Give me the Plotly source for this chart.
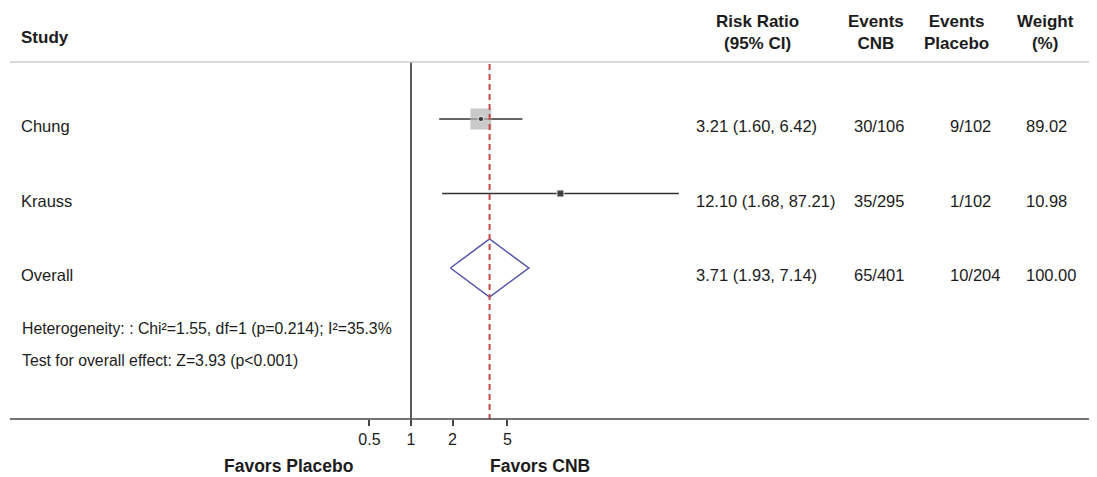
import plotly.graph_objects as go

# ---- data ----
studies = ["Chung", "Krauss"]
rr = [3.21, 12.10]
ci_low = [1.60, 1.68]
ci_high = [6.42, 87.21]
weights = [89.02, 10.98]
rr_text = ["3.21 (1.60, 6.42)", "12.10 (1.68, 87.21)"]
events_cnb = ["30/106", "35/295"]
events_placebo = ["9/102", "1/102"]

overall_label = "Overall"
overall_rr = 3.71
overall_low = 1.93
overall_high = 7.14
overall_text = "3.71 (1.93, 7.14)"
overall_cnb = "65/401"
overall_placebo = "10/204"
overall_weight = "100.00"

header_cols = ["Risk Ratio<br>(95% CI)", "Events<br>CNB", "Events<br>Placebo", "Weight<br>(%)"]
tick_vals = [0.5, 1, 2, 5]
tick_text = ["0.5", "1", "2", "5"]
heterogeneity = "Heterogeneity: : Chi²=1.55, df=1 (p=0.214); I²=35.3%"
overall_effect = "Test for overall effect: Z=3.93 (p<0.001)"

# ---- layout geometry (reference pixel space, page offset by body margin) ----
OFF = 8
W, H = 1097 - OFF, 477 - OFF
def fx(px):
    return px - OFF
def fy(px):
    return px - OFF

ML, MR, MT = fx(10), 0, 0
plot_bottom = fy(419)
MB = H - plot_bottom
PX_PER_DEC = 138.0
X_ONE_PX = fx(411)
ROW_PX0 = fy(119)
ROW_STEP = 74.5

x_lo = -(X_ONE_PX - ML) / PX_PER_DEC
x_hi = (W - MR - X_ONE_PX) / PX_PER_DEC
y_top = 1 - (ROW_PX0 - MT) / ROW_STEP
y_bot = 1 + (plot_bottom - ROW_PX0) / ROW_STEP

def py(ref_px):  # reference pixel -> y data
    return 1 + (fy(ref_px) - ROW_PX0) / ROW_STEP

def paper_x(ref_px):
    return (fx(ref_px) - ML) / (W - ML - MR)

def paper_y(ref_px):
    return (plot_bottom - fy(ref_px)) / (plot_bottom - MT)

FONT = "Liberation Sans, Arial, sans-serif"
TXT = "#1c1c1c"

fig = go.Figure()

rows = [1, 2]
for i, s in enumerate(studies):
    fig.add_trace(go.Scatter(x=[ci_low[i], ci_high[i]], y=[rows[i], rows[i]], mode="lines",
                             line=dict(color="#333333", width=1.5), hoverinfo="skip", showlegend=False))
max_w = max(weights)
sizes = [21 * (w / max_w) ** 0.5 for w in weights]
fig.add_trace(go.Scatter(x=rr, y=rows, mode="markers",
                         marker=dict(symbol="square", size=sizes, color="#b3b3b3", line=dict(width=0)),
                         showlegend=False, hoverinfo="skip"))
fig.add_trace(go.Scatter(x=rr, y=rows, mode="markers",
                         marker=dict(symbol=["circle", "square"], size=[5.5, 7], color="#111111"),
                         showlegend=False, hoverinfo="skip"))

h = 29 / ROW_STEP
fig.add_trace(go.Scatter(x=[overall_low, overall_rr, overall_high, overall_rr, overall_low],
                         y=[3, 3 - h, 3, 3 + h, 3], mode="lines",
                         line=dict(color="#5155a8", width=1.5), showlegend=False, hoverinfo="skip"))

shapes = []
shapes.append(dict(type="line", xref="x", yref="y", x0=1, x1=1, y0=py(62), y1=y_bot,
                   line=dict(color="#222222", width=1.5)))
shapes.append(dict(type="line", xref="x", yref="y", x0=overall_rr, x1=overall_rr, y0=py(64), y1=y_bot,
                   line=dict(color="#c24a4a", width=2, dash="6px,4px")))
shapes.append(dict(type="line", xref="paper", yref="y", x0=0, x1=1, y0=py(62), y1=py(62),
                   line=dict(color="#cccccc", width=1.5)))
shapes.append(dict(type="line", xref="paper", yref="paper", x0=0, x1=1, y0=0, y1=0,
                   line=dict(color="#444444", width=1.5)))

ann = []
def add_text(text, px_x, px_y, anchor="left", bold=False, size=16.5):
    t = f"<b>{text}</b>" if bold else text
    ann.append(dict(text=t, x=paper_x(px_x), y=paper_y(px_y), xref="paper", yref="paper",
                    xanchor=anchor, yanchor="middle", showarrow=False,
                    font=dict(family=FONT, size=size, color=TXT), align="center"))

add_text("Study", 19, 37, bold=True, size=17)
header_x = [757, 876, 956, 1045]
for t, x in zip(header_cols, header_x):
    add_text(t, x, 32, anchor="center", bold=True, size=17)

text_dy = 7
col_x = [694, 852, 948, 1024]
for i, s in enumerate(studies):
    ypx = 119 + (rows[i] - 1) * ROW_STEP + text_dy
    add_text(s, 19, ypx)
    add_text(rr_text[i], col_x[0], ypx)
    add_text(events_cnb[i], col_x[1], ypx)
    add_text(events_placebo[i], col_x[2], ypx)
    add_text(f"{weights[i]:.2f}", col_x[3], ypx)

ypx = 119 + 2 * ROW_STEP + text_dy
add_text(overall_label, 19, ypx)
add_text(overall_text, col_x[0], ypx)
add_text(overall_cnb, col_x[1], ypx)
add_text(overall_placebo, col_x[2], ypx)
add_text(overall_weight, col_x[3], ypx)

add_text(heterogeneity, 20, 328, size=15.8)
add_text(overall_effect, 20, 360, size=15.8)

add_text("Favors Placebo", 289, 466, anchor="center", bold=True, size=17.5)
add_text("Favors CNB", 540, 466, anchor="center", bold=True, size=17.5)

fig.update_layout(
    width=W, height=H, margin=dict(l=ML, r=MR, t=MT, b=MB),
    plot_bgcolor="white", paper_bgcolor="white",
    shapes=shapes, annotations=ann,
    xaxis=dict(type="log", range=[x_lo, x_hi], tickvals=tick_vals, ticktext=tick_text,
               ticks="outside", ticklen=6, tickwidth=1.5, tickcolor="#444444",
               showgrid=False, zeroline=False, showline=False,
               tickfont=dict(family=FONT, size=16, color=TXT), fixedrange=True),
    yaxis=dict(range=[y_bot, y_top], showgrid=False, zeroline=False, showticklabels=False,
               showline=False, fixedrange=True),
)

fig.write_html("out.html")
